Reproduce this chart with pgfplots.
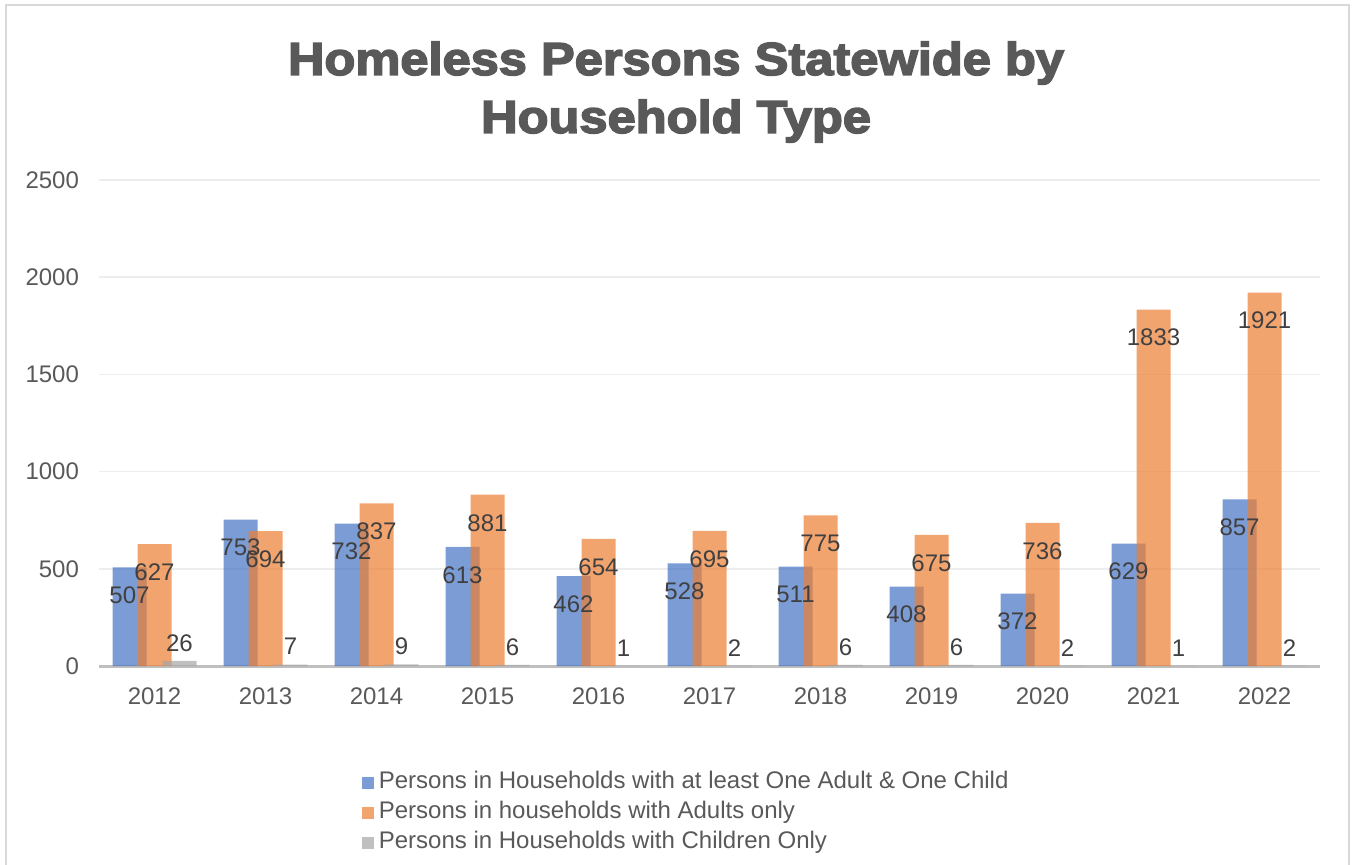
\documentclass[border=0pt]{standalone}
\usepackage{fontspec}
\setmainfont{Liberation Sans}
\newfontfamily\titlefont{Liberation Sans Bold}[FakeBold=3.5, FakeStretch=1.1]
\usepackage{pgfplots}
\pgfplotsset{compat=1.18}
\definecolor{cblue}{HTML}{4472C4}
\definecolor{corange}{HTML}{ED7D31}
\definecolor{cgray}{HTML}{A5A5A5}
\definecolor{ctext}{HTML}{595959}
\definecolor{clabel}{HTML}{404040}
\definecolor{cgrid}{HTML}{EDEDED}
\definecolor{caxis}{HTML}{BFBFBF}
\definecolor{cborder}{HTML}{D9D9D9}
\pgfplotsset{
  sqlegend/.style={legend image code/.code={\fill[##1] (0pt,-3pt) rectangle (6pt,3pt);}},
}
\begin{document}
\begin{tikzpicture}[x=1pt,y=1pt]
\useasboundingbox (0,0) rectangle (676,432);
\draw[cborder, line width=1pt] (3,-5) -- (3,429.5) -- (674.5,429.5) -- (674.5,-5);
\node[font=\titlefont\fontsize{23}{29}\selectfont, text=ctext, align=center] at (338,386) {Homeless Persons Statewide by\\Household Type};
\begin{axis}[
  at={(49.5pt,99pt)}, anchor=south west,
  scale only axis, width=610.5pt, height=243pt,
  ybar,
  xmin=-0.5, xmax=10.5, ymin=0, ymax=2500,
  xtick={0,...,10},
  xticklabels={2012,2013,2014,2015,2016,2017,2018,2019,2020,2021,2022},
  ytick={0,500,1000,1500,2000,2500},
  /pgf/number format/1000 sep={},
  /pgf/number format/assume math mode=true,
  major tick length=0pt,
  axis line style={draw=none},
  ymajorgrids, grid style={cgrid, line width=0.8pt},
  extra y ticks={0}, extra y tick labels={},
  extra y tick style={grid style={caxis, line width=1.5pt}},
  tick label style={font=\fontsize{12}{14}\selectfont, text=ctext},
  xticklabel style={yshift=-7.5pt},
  yticklabel style={xshift=-6.5pt},
  bar width=17pt,
  legend style={draw=none, fill=none, at={(0.21,-0.2)}, anchor=north west,
    font=\fontsize{12}{14}\selectfont, text=ctext, row sep=0pt,
    nodes={inner xsep=2.5pt, inner ysep=2pt, text height=8.6pt, text depth=2.4pt}},
  legend cell align=left,
  every node near coord/.append style={font=\fontsize{12}{14}\selectfont, text=clabel, text opacity=1, fill opacity=1, anchor=center},
  clip=false,
]
\addplot[fill=cblue, draw=none, fill opacity=0.7, bar shift=-12.5pt, sqlegend] coordinates {
(0,507) (1,753) (2,732) (3,613) (4,462) (5,528) (6,511) (7,408) (8,372) (9,629) (10,857)};
\addlegendentry{Persons in Households with at least One Adult \& One Child}
\addplot[fill=corange, draw=none, fill opacity=0.7, bar shift=0pt, sqlegend] coordinates {
(0,627) (1,694) (2,837) (3,881) (4,654) (5,695) (6,775) (7,675) (8,736) (9,1833) (10,1921)};
\addlegendentry{Persons in households with Adults only}
\addplot[fill=cgray, draw=none, fill opacity=0.7, bar shift=12.5pt, sqlegend] coordinates {
(0,26) (1,7) (2,9) (3,6) (4,1) (5,2) (6,6) (7,6) (8,2) (9,1) (10,2)};
\addlegendentry{Persons in Households with Children Only}
% labels drawn on top
\addplot[draw=none, fill=none, bar shift=-12.5pt, forget plot, nodes near coords,
  every node near coord/.append style={yshift=-14pt}] coordinates {
(0,507) (1,753) (2,732) (3,613) (4,462) (5,528) (6,511) (7,408) (8,372) (9,629) (10,857)};
\addplot[draw=none, fill=none, bar shift=0pt, forget plot, nodes near coords,
  every node near coord/.append style={yshift=-14pt}] coordinates {
(0,627) (1,694) (2,837) (3,881) (4,654) (5,695) (6,775) (7,675) (8,736) (9,1833) (10,1921)};
\addplot[draw=none, fill=none, bar shift=12.5pt, forget plot, nodes near coords,
  every node near coord/.append style={yshift=9pt}] coordinates {
(0,26) (1,7) (2,9) (3,6) (4,1) (5,2) (6,6) (7,6) (8,2) (9,1) (10,2)};
\end{axis}
\end{tikzpicture}
\end{document}
